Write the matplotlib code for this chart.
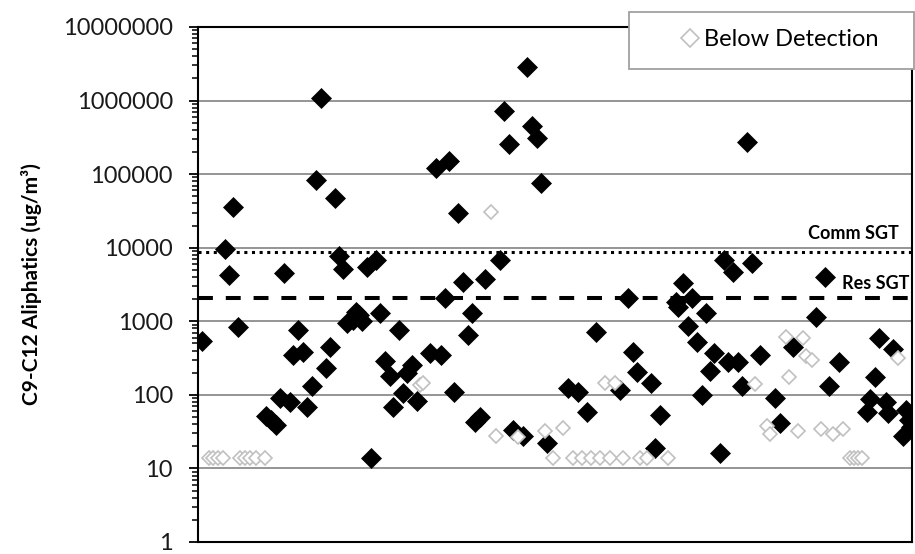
import matplotlib
matplotlib.use("Agg")
import matplotlib.pyplot as plt
import matplotlib.ticker as mticker
import matplotlib.transforms as mtransforms
from matplotlib.patches import Rectangle
import numpy as np

# sample position (left to right) and concentration, detected results
det_x = [0.9, 6.8, 7.9, 8.9, 10.2, 17.1, 18.4, 19.7, 20.7, 21.8,
         23.1, 23.9, 25.2, 26.5, 27.5, 28.7, 29.8, 31.0, 32.2, 33.3,
         34.5, 35.6, 36.6, 37.5, 39.0, 39.8, 40.5, 41.3, 42.5, 43.6,
         45.0, 45.9, 47.1, 48.4, 49.2, 50.7, 51.8, 52.8, 53.9, 55.1,
         58.5, 59.9, 61.2, 62.3, 63.3, 64.5, 65.6, 66.9, 68.0, 69.1,
         69.8, 71.1, 72.3, 76.1, 77.2, 78.3, 79.5, 82.0, 83.0, 84.1,
         85.4, 86.5, 88.1, 93.2, 95.9, 98.0, 100.3, 106.4, 108.4, 109.6,
         110.7, 114.2, 115.2, 116.5, 120.6, 121.1, 122.3, 123.5, 124.5, 125.7,
         127.0, 128.1, 129.2, 130.1, 131.6, 132.6, 133.5, 134.9, 136.2, 137.1,
         138.5, 139.6, 141.8, 145.5, 146.7, 150.0, 155.7, 158.1, 159.2, 161.5,
         168.6, 169.5, 170.7, 171.8, 173.4, 174.0, 175.3, 177.8, 178.6, 179.2,
         179.7]
det_y = [540, 9500, 4300, 36000, 840, 52, 45, 39, 90, 4500,
         81, 350, 760, 380, 69, 130, 83000, 1100000, 230, 440,
         48000, 7800, 5100, 940, 1050, 1350, 1200, 1000, 5500, 14,
         6800, 1300, 290, 182, 69, 760, 105, 195, 255, 83,
         370, 120000, 350, 2100, 150000, 110, 30000, 3400, 650, 1310,
         43, 50, 3800, 6800, 720000, 255000, 33, 28, 2900000, 450000,
         310000, 76000, 22, 123, 110, 59, 720, 118, 2050, 385,
         205, 144, 19, 53, 1850, 1550, 3300, 850, 2050, 525,
         101, 1300, 210, 368, 16, 6700, 280, 4700, 280, 131,
         275000, 6100, 350, 90, 41, 450, 1130, 4000, 131, 280,
         59, 87, 175, 590, 81, 56, 420, 28, 62, 45,
         36]

# below detection results
bd_x = [2.8, 3.8, 5.0, 6.3, 10.6, 11.8, 13.1, 14.6, 16.9, 56.0,
        56.8, 73.9, 75.1, 80.7, 87.6, 89.5, 92.1, 94.6, 96.7, 99.2,
        101.3, 103.9, 107.2, 111.4, 113.1, 118.6, 102.6, 105.1, 140.4, 143.4,
        144.2, 148.2, 152.4, 149.0, 151.2, 153.4, 154.9, 157.1, 160.1, 162.7,
        164.4, 165.5, 166.5, 167.5, 176.6]
bd_y = [14, 14, 14, 14, 14, 14, 14, 14, 14, 135,
        145, 31000, 28, 27, 32, 14, 35, 14, 14, 14,
        14, 14, 14, 14, 14, 14, 144, 144, 142, 38,
        29, 615, 600, 176, 32, 335, 295, 34, 29, 34,
        14, 14, 14, 14, 315]

comm_sgt = 8800
res_sgt = 2100

y_ticks = [1, 10, 100, 1000, 10000, 100000, 1000000, 10000000]
y_labels = ["1", "10", "100", "1000", "10000", "100000", "1000000", "10000000"]

plt.rcParams["font.family"] = ["Lato", "DejaVu Sans"]

fig = plt.figure(figsize=(9.15, 5.54), dpi=100)
ax = fig.add_axes([0.2164, 0.0217, 0.7803, 0.9296])

ax.set_yscale("log")
ax.set_ylim(1, 1e7)
ax.set_xlim(0, 180)

ax.grid(axis="y", which="major", color="#8c8c8c", lw=1.3, zorder=0)
ax.set_axisbelow(True)

ax.plot(det_x, det_y, ls="none", marker="D", ms=10.5, mfc="black",
        mec="black", mew=0.5, zorder=3)
ax.plot(bd_x, bd_y, ls="none", marker="D", ms=7.2, mfc="white",
        mec="#c0c0c0", mew=1.2, zorder=4, label="Below Detection")

ax.axhline(comm_sgt, color="black", lw=2.2, ls=(0, (1, 1.5)), zorder=2)
ax.axhline(res_sgt, color="black", lw=2.9, ls=(0, (3.7, 3.2)), zorder=2)

trans = mtransforms.blended_transform_factory(ax.transAxes, ax.transData)
ax.annotate("Comm SGT", xy=(0.982, comm_sgt), xycoords=trans,
            xytext=(0, 7), textcoords="offset points", ha="right",
            va="bottom", fontsize=13, fontweight="bold")
ax.annotate("Res SGT", xy=(0.996, res_sgt), xycoords=trans,
            xytext=(0, 4), textcoords="offset points", ha="right",
            va="bottom", fontsize=13, fontweight="bold")

ax.set_yticks(y_ticks)
ax.set_yticklabels(y_labels)
ax.yaxis.set_minor_locator(mticker.LogLocator(base=10, subs=np.arange(2, 10), numticks=20))
ax.yaxis.set_minor_formatter(mticker.NullFormatter())
ax.tick_params(axis="y", which="major", length=6.5, width=1.3, pad=11.5,
               labelsize=17, labelcolor="#1a1a1a")
ax.tick_params(axis="y", which="minor", length=4, width=1.1)
ax.set_xticks([])

for side in ["left", "bottom", "top", "right"]:
    ax.spines[side].set_linewidth(1.5)

ax.set_ylabel("C9-C12 Aliphatics (ug/m\u00b3)", fontsize=15, fontweight="bold")
ax.yaxis.set_label_coords(-0.218, 0.501)

# legend box sits over the top right corner of the plot
box = Rectangle((0.6874, 0.8755), 0.3115, 0.1029, transform=fig.transFigure,
                facecolor="white", edgecolor="#a0a0a0", lw=1.3, zorder=1)
fig.patches.append(box)
fig.legend(loc="center", bbox_to_anchor=(0.853, 0.928), frameon=False,
           fontsize=17, markerscale=1.25, handlelength=0.6, handletextpad=0.3)

fig.savefig("out.png", dpi=100)
